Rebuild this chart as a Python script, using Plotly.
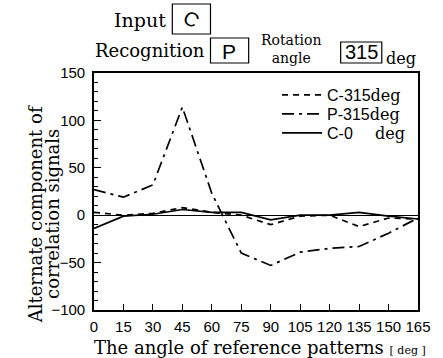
import plotly.graph_objects as go

angles = [0, 15, 30, 45, 60, 75, 90, 105, 120, 135, 150, 165]
c315 = [3, 0, 2, 8, 3, 0, -10, -1, 0, -12, -3, -4]
p315 = [27, 19, 32, 114, 23, -40, -53, -39, -35, -33, -19, -3]
c0 = [-14, -1, 1, 6, 3, 3, -5, 0, 0, 3, -1, -4]

names = ["C-315", "P-315", "C-0&nbsp;&nbsp;&nbsp;&nbsp;&nbsp;"]
dashes = ["6px,5px", "12px,5px,3px,5px", "solid"]
series = [c315, p315, c0]
xticks = angles
yticks = [-100, -50, 0, 50, 100, 150]

SERIF = "DejaVu Serif"
SANS = "Liberation Sans"

L, R, T, B = 94, 425, 73, 310
W, H = R - L, B - T


def px(x):
    return (x - L) / W


def py(y):
    return (B - y) / H


legend_ids = ["legend", "legend2", "legend3"]
legend_rows = [95, 114, 133]

fig = go.Figure()
for nm, ds, vals, lg in zip(names, dashes, series, legend_ids):
    fig.add_trace(go.Scatter(
        x=angles, y=vals, mode="lines", legend=lg,
        name=nm + '<span style="font-family:DejaVu Serif">deg</span>',
        line=dict(color="black", width=1.7, dash=ds),
    ))

layout_legends = {}
for lg, row in zip(legend_ids, legend_rows):
    layout_legends[lg] = dict(x=px(281), y=py(row), xanchor="left", yanchor="middle",
                              bgcolor="rgba(0,0,0,0)", itemwidth=40,
                              font=dict(family=SANS, size=16))

fig.update_layout(
    width=443, height=358,
    margin=dict(l=L, r=443 - R, t=T, b=358 - B),
    plot_bgcolor="white", paper_bgcolor="white",
    font=dict(family=SANS, color="black", size=15),
    showlegend=True,
    **layout_legends,
)
fig.update_xaxes(
    range=[0, 165], tickvals=xticks, ticktext=[str(v) for v in xticks],
    ticks="inside", ticklen=6, tickwidth=1.2, tickcolor="black",
    showline=True, linecolor="black", linewidth=1.6, mirror=True,
    showgrid=False, zeroline=False, tickfont=dict(size=15),
    ticklabelstandoff=2,
)
fig.update_yaxes(
    range=[-100, 150], tickvals=yticks,
    ticks="inside", ticklen=7, tickwidth=1.2, tickcolor="black",
    minor=dict(dtick=10, ticks="inside", ticklen=4, tickwidth=1, tickcolor="black", showgrid=False),
    showline=True, linecolor="black", linewidth=1.6, mirror=True,
    showgrid=False, zeroline=True, zerolinecolor="black", zerolinewidth=1.3,
    tickfont=dict(size=15), ticklabelstandoff=4,
)

ann = []
# y-axis title (two lines)
ann.append(dict(text="Alternate component of", x=px(34), y=py(214), xref="paper", yref="paper",
                textangle=-90, showarrow=False, font=dict(family=SERIF, size=18),
                xanchor="center", yanchor="middle"))
ann.append(dict(text="correlation signals", x=px(51), y=py(214), xref="paper", yref="paper",
                textangle=-90, showarrow=False, font=dict(family=SERIF, size=18),
                xanchor="center", yanchor="middle"))
# x-axis title
ann.append(dict(text='The angle of reference patterns <span style="font-size:11px">[ deg ]</span>',
                x=px(92), y=py(347), xref="paper", yref="paper", showarrow=False,
                font=dict(family=SERIF, size=18), xanchor="left", yanchor="middle"))
# header
ann.append(dict(text="Input", x=px(170), y=py(20), xref="paper", yref="paper", showarrow=False,
                font=dict(family=SERIF, size=19), xanchor="right", yanchor="middle"))
ann.append(dict(text="C", x=px(193), y=py(19), xref="paper", yref="paper", showarrow=False,
                font=dict(family=SANS, size=20), textangle=30, xanchor="center", yanchor="middle"))
ann.append(dict(text="Recognition", x=px(209), y=py(50), xref="paper", yref="paper", showarrow=False,
                font=dict(family=SERIF, size=18), xanchor="right", yanchor="middle"))
ann.append(dict(text="P", x=px(232), y=py(51), xref="paper", yref="paper", showarrow=False,
                font=dict(family=SANS, size=21), xanchor="center", yanchor="middle"))
ann.append(dict(text="Rotation<br>angle", x=px(296), y=py(49), xref="paper", yref="paper",
                showarrow=False, font=dict(family=SERIF, size=14), xanchor="center",
                yanchor="middle", align="center"))
ann.append(dict(text="315", x=px(367), y=py(52), xref="paper", yref="paper", showarrow=False,
                font=dict(family=SANS, size=20), xanchor="center", yanchor="middle"))
ann.append(dict(text="deg", x=px(390), y=py(58), xref="paper", yref="paper", showarrow=False,
                font=dict(family=SERIF, size=16), xanchor="left", yanchor="middle"))
fig.update_layout(annotations=ann)

boxes = [(174, 4, 213, 34), (213, 38, 252, 63), (346, 42, 388, 63)]
for x0, y0, x1, y1 in boxes:
    fig.add_shape(type="rect", xref="paper", yref="paper",
                  x0=px(x0), x1=px(x1), y0=py(y1), y1=py(y0),
                  line=dict(color="black", width=1.2))

fig.write_html("out.html")
